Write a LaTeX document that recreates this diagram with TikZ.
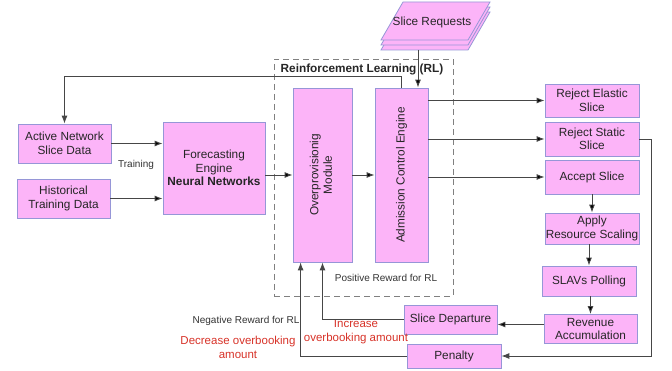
\documentclass[tikz,border=0pt]{standalone}
\usepackage{fontspec}
\setmainfont{Liberation Sans}
\usetikzlibrary{arrows.meta,calc}
\definecolor{boxfill}{RGB}{252,180,248}
\definecolor{boxline}{RGB}{150,150,215}
\definecolor{redtxt}{RGB}{215,50,40}
\definecolor{linegray}{RGB}{70,70,70}

\begin{document}
\begin{tikzpicture}[x=1pt, y=-1pt,
	box/.style={draw=boxline, fill=boxfill, line width=0.8pt, align=center, inner sep=0pt, text=black!85, font=\fontsize{11.8}{13.5}\selectfont},
	conn/.style={draw=linegray, line width=0.9pt, >={Latex[length=8pt,width=6pt]}},
	lbl/.style={font=\fontsize{10}{12}\selectfont, text=black!80},
	redlbl/.style={font=\fontsize{11.5}{14}\selectfont, text=redtxt, align=center}]
\useasboundingbox (0,0) rectangle (672,371);

\node[draw=gray, dash pattern=on 6pt off 4pt, line width=0.8pt, minimum width=179pt, minimum height=237pt] (rl) at (363.5,177.5) {};
\node[font=\bfseries\fontsize{11.8}{14}\selectfont, text=black!85] (rlt) at (362,69) {Reinforcement Learning (RL)};

\foreach \d in {10,5,0}
	\filldraw[draw=boxline, fill=boxfill, line width=0.8pt] (381,{40+\d}) -- (403,{2+\d}) -- (490,{2+\d}) -- (468,{40+\d}) -- cycle;
\node[text=black!85, font=\fontsize{11.8}{13.5}\selectfont] (req) at (432,22) {Slice Requests};
\coordinate (reqb) at (418,50);

\node[box, minimum width=93pt, minimum height=39pt] (act) at (64.5,143.5) {Active Network\\Slice Data};
\node[box, minimum width=93pt, minimum height=39pt] (hist) at (63.5,198.5) {Historical\\Training Data};
\node[box, minimum width=102pt, minimum height=92pt] (fe) at (214,168) {Forecasting\\Engine\\\textbf{Neural Networks}};
\node[box, minimum width=59pt, minimum height=174pt] (ovp) at (322.5,175) {\rotatebox{90}{\begin{tabular}{@{}c@{}}Overprovisionig\\Module\end{tabular}}};
\node[box, minimum width=53pt, minimum height=174pt] (adm) at (401.5,175) {\rotatebox{90}{Admission Control Engine}};

\node[box, minimum width=94pt, minimum height=33pt] (rje) at (592,100.5) {Reject Elastic\\Slice};
\node[box, minimum width=94pt, minimum height=34pt] (rjs) at (592,139) {Reject Static\\Slice};
\node[box, minimum width=94pt, minimum height=34pt] (acc) at (592,177) {Accept Slice};
\node[box, minimum width=94pt, minimum height=31pt] (app) at (592,228.5) {Apply\\Resource Scaling};
\node[box, minimum width=94pt, minimum height=30pt] (slav) at (589,281) {SLAVs Polling};
\node[box, minimum width=93pt, minimum height=29pt] (rev) at (590.5,329) {Revenue\\Accumulation};
\node[box, minimum width=93pt, minimum height=29pt] (dep) at (450.5,319.5) {Slice Departure};
\node[box, minimum width=94pt, minimum height=24pt] (pen) at (454,356) {Penalty};

\node[lbl] (trn) at (136,165) {Training};
\node[lbl] (pos) at (386,278) {Positive Reward for RL};
\node[lbl] (neg) at (246,321) {Negative Reward for RL};
\node[redlbl] (dec) at (238,347) {Decrease overbooking\\amount};
\node[redlbl] (inc) at (356,332) {Increase\\overbooking amount};

\coordinate (fb) at (64.5,76);
\coordinate (r1) at ($(rev.west)+(0,-4.5)$);

\path[conn]
(act.east) edge[->] (act.east -| fe.west)
(hist.east) edge[->] (hist.east -| fe.west)
(ovp.west -| fe.east) edge[->] (ovp.west)
(ovp) edge[->] (adm)
(adm.east |- rje) edge[->] (rje.west)
(adm.east |- rjs) edge[->] (rjs.west)
(adm.east |- acc) edge[->] (acc.west)
(acc) edge[->] (app)
(slav.north |- app.south) edge[->] (slav.north)
(rev.north |- slav.south) edge[->] (rev.north)
(r1) edge[->] (r1 -| dep.east)
(reqb) edge[->] (reqb |- adm.north)
;
\draw[conn,->] (adm.north) |- (fb) -- (act.north);
\draw[conn,->] (dep.west) -| (ovp.south);
\draw[conn,->] (pen.west) -| ([xshift=8pt]ovp.south west);
\draw[conn,->] (rjs.east) -- ++(12,0) |- (pen.east);
\end{tikzpicture}
\end{document}
